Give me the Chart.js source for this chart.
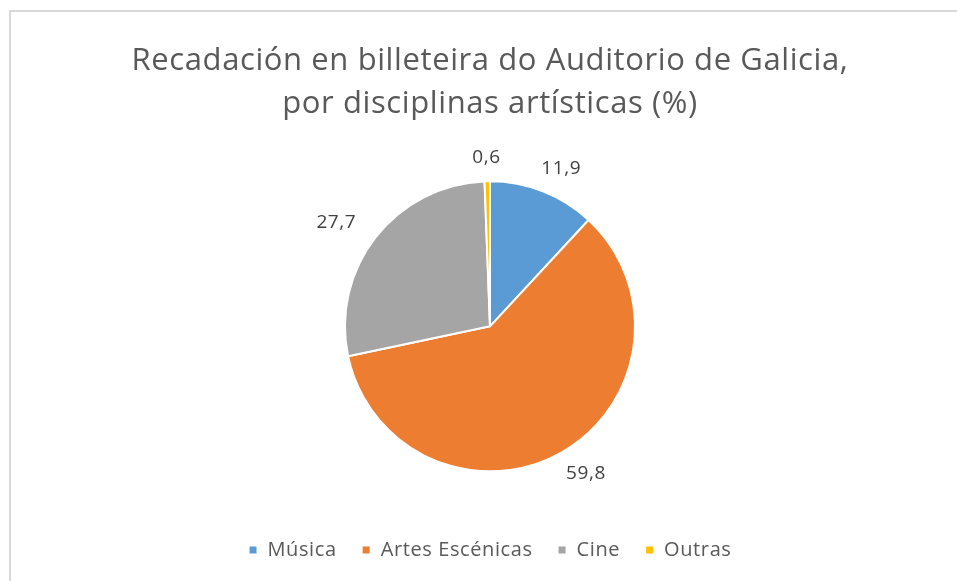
<!DOCTYPE html>
<html>
<head>
<meta charset="utf-8">
<title>Recadación en billeteira do Auditorio de Galicia</title>
<script src="https://cdn.jsdelivr.net/npm/chart.js"></script>
<style>
  html, body { margin: 0; padding: 0; width: 957px; height: 581px; overflow: hidden; background: #fff; }
  .frame { position: absolute; left: 9px; top: 10px; width: 1000px; height: 700px; border-top: 2px solid #d9d9d9; border-left: 2px solid #d9d9d9; }
  #chart { position: absolute; left: 0; top: 0; }
</style>
</head>
<body>
<div class="frame"></div>
<canvas id="chart" width="957" height="581"></canvas>
<script>
// data
const categories = ['Música', 'Artes Escénicas', 'Cine', 'Outras'];
const shares = [11.9, 59.8, 27.7, 0.6];
const sliceColors = ['#5B9BD5', '#ED7D31', '#A5A5A5', '#FFC000'];
const titleLines = ['Recadación en billeteira do Auditorio de Galicia,', 'por disciplinas artísticas (%)'];

const FONT = '"Open Sans", Lato, sans-serif';

// the original font runs a little wider, so space the letters out a bit
const wideText = {
  id: 'wideText',
  beforeUpdate(chart) { chart.ctx.letterSpacing = '0.6px'; },
  beforeDraw(chart) { chart.ctx.letterSpacing = '0.6px'; }
};

// outside labels, placed from each arc's own geometry
const outsideLabels = {
  id: 'outsideLabels',
  afterDatasetsDraw(chart) {
    const ctx = chart.ctx;
    const meta = chart.getDatasetMeta(0);
    ctx.save();
    ctx.font = '19px ' + FONT;
    ctx.fillStyle = '#404040';
    ctx.textAlign = 'center';
    ctx.textBaseline = 'middle';
    meta.data.forEach((arc, i) => {
      const { x, y, startAngle, endAngle, outerRadius } = arc.getProps(['x', 'y', 'startAngle', 'endAngle', 'outerRadius'], true);
      const mid = (startAngle + endAngle) / 2;
      const cos = Math.cos(mid), sin = Math.sin(mid);
      const text = shares[i].toFixed(1).replace('.', ',');
      const w = ctx.measureText(text).width;
      const r = outerRadius + 14;
      const lx = x + cos * r + cos * w * 0.9;
      const ly = y + sin * r + sin * 10;
      ctx.fillText(text, lx, ly);
    });
    ctx.restore();
  }
};

new Chart(document.getElementById('chart'), {
  type: 'pie',
  data: {
    labels: categories,
    datasets: [{
      data: shares,
      backgroundColor: sliceColors,
      borderColor: '#ffffff',
      borderWidth: 2
    }]
  },
  options: {
    responsive: false,
    animation: false,
    radius: 145,
    layout: { padding: { left: 23, right: 0, top: 0, bottom: 11 } },
    plugins: {
      title: {
        display: true,
        text: titleLines,
        color: '#595959',
        font: { family: FONT, size: 31, weight: 'normal', lineHeight: 1.39 },
        padding: { top: 39.5, bottom: 12 }
      },
      legend: {
        position: 'bottom',
        labels: {
          color: '#595959',
          font: { family: FONT, size: 20 },
          boxWidth: 9,
          boxHeight: 9,
          padding: 25
        }
      },
      tooltip: { enabled: false }
    }
  },
  plugins: [wideText, outsideLabels]
});
</script>
</body>
</html>
